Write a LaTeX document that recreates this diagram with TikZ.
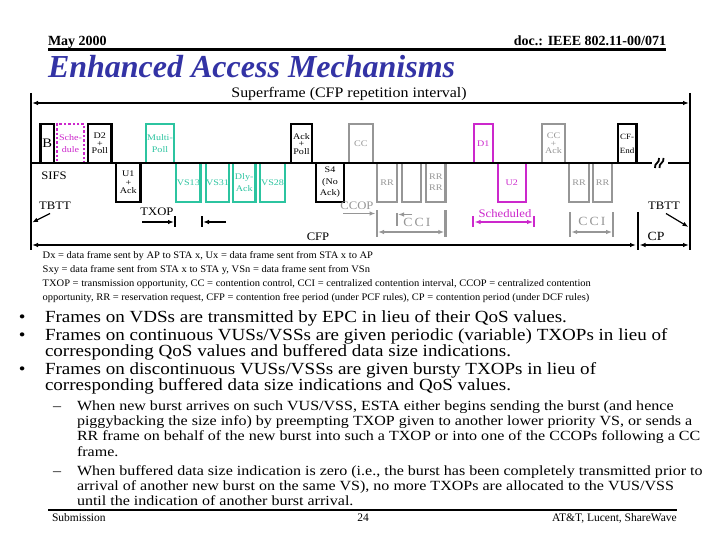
\documentclass[tikz,border=0pt]{standalone}
\usepackage{fontspec}
\setmainfont{Liberation Serif}
\newfontfamily\wA[FakeStretch=1.12]{Liberation Serif}
\newfontfamily\wB[FakeStretch=1.17]{Liberation Serif}
\newfontfamily\wS[FakeStretch=1.145]{Liberation Serif}
\newfontfamily\wL[FakeStretch=1.05]{Liberation Serif}
\newfontfamily\wT[FakeStretch=1.1]{Liberation Serif}
\usetikzlibrary{arrows.meta}
\definecolor{tealc}{RGB}{44,196,160}
\definecolor{magc}{RGB}{204,40,204}
\definecolor{grayc}{RGB}{150,150,150}
\definecolor{titleblue}{RGB}{51,51,165}
\begin{document}
\begin{tikzpicture}[x=1pt,y=-1pt,
  bx/.style={inner sep=0pt, outer sep=0pt, align=center, font=\wB\fontsize{8.6}{8.5}\selectfont},
  upbox/.style={bx, minimum width=#1, minimum height=38.8pt, anchor=center},
  blkbox/.style={draw=black, line width=2.4pt},
  tl/.style={draw=tealc, line width=2.4pt, line join=miter},
  gr/.style={draw=grayc, line width=2.2pt},
  mg/.style={draw=magc, line width=2.4pt},
  txt/.style={inner sep=0pt, outer sep=0pt, anchor=center, font=\wT\fontsize{11.5}{11.5}\selectfont},
  line/.style={inner sep=0pt, outer sep=0pt, anchor=base west},
  arr/.style={line width=1.2pt, -{Latex[length=6pt,width=4.5pt]}},
  darr/.style={line width=1.2pt, {Latex[length=6pt,width=4.5pt]}-{Latex[length=6pt,width=4.5pt]}},
  bar/.style={line width=2.2pt},
  thick2/.style={line width=2.4pt}
]
\useasboundingbox (0,0) rectangle (720,540);
\fill[white] (0,0) rectangle (720,540);

% ---------------- header ----------------
\node[line, font=\bfseries\fontsize{14}{14}\selectfont] (may) at (48,46) {May 2000};
\node[inner sep=0pt, outer sep=0pt, anchor=base east, font=\bfseries\fontsize{14}{14}\selectfont] (doc) at (666,46) {doc.: IEEE 802.11-00/071};
\coordinate (hl) at (48,49.5);
\coordinate (hr) at (666,49.5);
\draw[thick2] (hl) -- (hr);
\node[line, font=\bfseries\itshape\fontsize{32}{32}\selectfont, text=titleblue] (title) at (48,78) {Enhanced Access Mechanisms};

% ---------------- frame lines ----------------
\coordinate (lt) at (31,93);
\coordinate (lb) at (31,250);
\coordinate (rt) at (690,93);
\coordinate (rb) at (690,250);
\draw[thick2] (lt) -- (lb);
\draw[thick2] (rt) -- (rb);
\node[txt, font=\wT\fontsize{14.5}{14.5}\selectfont] (sf) at (349,93.5) {Superframe (CFP repetition interval)};
\coordinate (sfl) at (32,103);
\coordinate (sfr) at (689,103);
\draw[darr, line width=2pt] (sfl) -- (sfr);

% ---------------- boxes above the baseline ----------------
\node[upbox=13.3pt, blkbox, font=\wA\fontsize{13}{13}\selectfont] (B) at (47.15,143.6) {B};
\node[upbox=27pt, draw=magc, line width=2.4pt, dotted, text=magc] (Sch) at (70.5,143.6) {Sche-\\[3pt]dule};
\node[upbox=23.3pt, blkbox] (D2) at (99.85,143.6) {D2\\[-1pt]+\\[-1pt]Poll};
\node[upbox=27.6pt, text=tealc] (MP) at (160,143.6) {Multi-\\[4pt]Poll};
\node[upbox=20.6pt, blkbox] (AP) at (301.5,143.6) {Ack\\[-1pt]+\\[-1pt]Poll};
\node[upbox=23.9pt, text=grayc] (CC) at (360.85,143.6) {CC};
\node[upbox=18.9pt, text=magc] (D1) at (483.35,143.6) {D1};
\node[upbox=22.6pt, text=grayc] (CCA) at (553.5,143.6) {CC\\[-1pt]+\\[-1pt]Ack};
\node[upbox=18.6pt, blkbox, font=\wA\fontsize{8}{8}\selectfont] (CFE) at (627.2,143.6) {CF-\\[6pt]End};

\draw[tl] (MP.south west) -- (MP.north west) -- (MP.north east) -- (MP.south east);
\draw[gr] (CC.south west) -- (CC.north west) -- (CC.north east) -- (CC.south east);
\draw[mg] (D1.south west) -- (D1.north west) -- (D1.north east) -- (D1.south east);
\draw[gr] (CCA.south west) -- (CCA.north west) -- (CCA.north east) -- (CCA.south east);

% ---------------- boxes below the baseline ----------------
\node[upbox=24.3pt, blkbox] (U1) at (128.35,182.4) {U1\\[0pt]+\\[0pt]Ack};
\node[upbox=24.3pt, text=tealc] (VS13) at (188.35,182.4) {VS13};
\node[upbox=22.6pt, text=tealc] (VS31) at (217.5,182.4) {VS31};
\node[upbox=22.6pt, text=tealc] (DA) at (244.2,182.4) {Dly-\\[3pt]Ack};
\node[upbox=24.6pt, text=tealc] (VS28) at (272.5,182.4) {VS28};
\node[upbox=27.6pt, blkbox] (S4) at (330,182.4) {S4\\[3pt](No\\[3pt]Ack)};
\node[upbox=19.6pt, text=grayc] (RR1) at (387,182.4) {RR};
\node[upbox=18.9pt] (RRe) at (411.35,182.4) {};
\node[upbox=19.3pt, text=grayc] (RR2) at (435.85,182.4) {RR\\[2pt]RR};
\node[upbox=27.9pt, text=magc] (U2) at (511.85,182.4) {U2};
\node[upbox=19.6pt, text=grayc] (RR3) at (579,182.4) {RR};
\node[upbox=18.6pt, text=grayc] (RR4) at (602.5,182.4) {RR};

\foreach \n in {VS13,VS31,DA,VS28}
  \draw[tl] (\n.north west) -- (\n.south west) -- (\n.south east) -- (\n.north east);
\foreach \n in {RR1,RRe,RR2,RR3,RR4}
  \draw[gr] (\n.north west) -- (\n.south west) -- (\n.south east) -- (\n.north east);
\draw[mg] (U2.north west) -- (U2.south west) -- (U2.south east) -- (U2.north east);

% ---------------- baseline ----------------
\coordinate (b0) at (31,163);
\coordinate (b1) at (652,163);
\coordinate (b2) at (668,163);
\coordinate (b3) at (690,163);
\draw[line width=2.2pt] (b0) -- (b1);
\draw[line width=2.2pt] (b2) -- (b3);
\coordinate (k1a) at (655,168); \coordinate (k1b) at (659,158);
\coordinate (k2a) at (659.5,168); \coordinate (k2b) at (663.5,158);
\draw[line width=1.8pt] (k1a) .. controls (654,163) and (660,163) .. (k1b);
\draw[line width=1.8pt] (k2a) .. controls (658.5,163) and (664.5,163) .. (k2b);

% ---------------- annotations ----------------
\node[txt] (sifs) at (54,176) {SIFS};
\node[txt] (tbttL) at (55,206) {TBTT};
\coordinate (tbttLs) at (50,213.5);
\coordinate (tbttLe) at (32,222.5);
\draw[arr] (tbttLs) -- (tbttLe);

\node[txt] (txop) at (157,212) {TXOP};
\coordinate (tx1s) at (142,222);
\coordinate (tx1e) at (174,222);
\coordinate (tx2s) at (226,222);
\coordinate (tx2e) at (203,222);
\draw[arr] (tx1s) -- (tx1e);
\draw[arr] (tx2s) -- (tx2e);
\coordinate (txb1t) at (175,216.5); \coordinate (txb1b) at (175,227.5);
\coordinate (txb2t) at (201.7,216.5); \coordinate (txb2b) at (201.7,227.5);
\draw[bar] (txb1t) -- (txb1b);
\draw[bar] (txb2t) -- (txb2b);

\node[txt, text=grayc] (ccop) at (357,206) {CCOP};
\coordinate (cc1s) at (343,213.5);
\coordinate (cc1e) at (375.5,213.5);
\draw[arr, draw=grayc, fill=grayc] (cc1s) -- (cc1e);
\coordinate (ccb1t) at (376.7,210.5); \coordinate (ccb1b) at (376.7,237);
\coordinate (ccb2t) at (445.5,210.5); \coordinate (ccb2b) at (445.5,237);
\draw[bar, grayc] (ccb1t) -- (ccb1b);
\draw[bar, grayc] (ccb2t) -- (ccb2b);
\coordinate (ccs1t) at (396.7,213); \coordinate (ccs1b) at (396.7,226);
\draw[bar, grayc] (ccs1t) -- (ccs1b);
\coordinate (ccs2s) at (412,214.5); \coordinate (ccs2e) at (398,214.5);
\draw[arr, draw=grayc, fill=grayc] (ccs2s) -- (ccs2e);
\node[txt, text=grayc, font=\wT\fontsize{12.5}{12.5}\selectfont] (cci1) at (417,222) {C\,C\,I};
\coordinate (ccd1) at (378,232); \coordinate (ccd2) at (444.3,232);
\draw[darr, draw=grayc, fill=grayc] (ccd1) -- (ccd2);

\node[txt, text=magc] (sched) at (505,213.5) {Scheduled};
\coordinate (scb1t) at (473.3,216.5); \coordinate (scb1b) at (473.3,227);
\coordinate (scb2t) at (534.3,216.5); \coordinate (scb2b) at (534.3,227);
\draw[bar, magc] (scb1t) -- (scb1b);
\draw[bar, magc] (scb2t) -- (scb2b);
\coordinate (scd1) at (474.5,222); \coordinate (scd2) at (533.1,222);
\draw[darr, draw=magc, fill=magc] (scd1) -- (scd2);

\node[txt, text=grayc, font=\wT\fontsize{12.5}{12.5}\selectfont] (cci2) at (592,221.5) {C\,C\,I};
\coordinate (crb1t) at (570,212.5); \coordinate (crb1b) at (570,237);
\coordinate (crb2t) at (613.3,212.5); \coordinate (crb2b) at (613.3,237);
\draw[bar, grayc] (crb1t) -- (crb1b);
\draw[bar, grayc] (crb2t) -- (crb2b);
\coordinate (crd1) at (571.2,232); \coordinate (crd2) at (612.1,232);
\draw[darr, draw=grayc, fill=grayc] (crd1) -- (crd2);

\node[txt] (tbttR) at (664,206) {TBTT};
\coordinate (tbttRs) at (666,213.5);
\coordinate (tbttRe) at (688.5,227);
\draw[arr] (tbttRs) -- (tbttRe);

% bottom CFP / CP arrows
\coordinate (cfpl) at (32,245);
\coordinate (cfpr) at (636,245);
\draw[darr, line width=2pt] (cfpl) -- (cfpr);
\coordinate (cpt) at (637.8,212);
\coordinate (cpb) at (637.8,250);
\draw[thick2] (cpt) -- (cpb);
\coordinate (cpl) at (639.5,245);
\coordinate (cpr) at (689,245);
\draw[darr, line width=2pt] (cpl) -- (cpr);
\node[txt] (cfp) at (318,237) {CFP};
\node[txt, font=\wT\fontsize{12.5}{12.5}\selectfont] (cp) at (656,236) {CP};

% ---------------- legend ----------------
\begin{scope}[font=\wL\fontsize{10}{10}\selectfont]
\node[line] (lg1) at (42.7,258.5) {Dx = data frame sent by AP to STA x, Ux = data frame sent from STA x to AP};
\node[line] (lg2) at (42.7,272.5) {Sxy = data frame sent from STA x to STA y, VSn = data frame sent from VSn};
\node[line] (lg3) at (42.7,286.5) {TXOP = transmission opportunity, CC = contention control, CCI = centralized contention interval, CCOP = centralized contention};
\node[line] (lg4) at (42.7,300.5) {opportunity, RR = reservation request, CFP = contention free period (under PCF rules), CP = contention period (under DCF rules)};
\end{scope}

% ---------------- bullets ----------------
\begin{scope}[font=\wA\fontsize{17}{17}\selectfont]
\node[line] (bu1) at (19,322) {•};
\node[line] (t1) at (45,322) {Frames on VDSs are transmitted by EPC in lieu of their QoS values.};
\node[line] (bu2) at (19,340) {•};
\node[line] (t2) at (45,340) {Frames on continuous VUSs/VSSs are given periodic (variable) TXOPs in lieu of};
\node[line] (t2b) at (45,356) {corresponding QoS values and buffered data size indications.};
\node[line] (bu3) at (19,374) {•};
\node[line] (t3) at (45,374) {Frames on discontinuous VUSs/VSSs are given bursty TXOPs in lieu of};
\node[line] (t3b) at (45,390) {corresponding buffered data size indications and QoS values.};
\end{scope}
\begin{scope}[font=\wS\fontsize{14}{14}\selectfont]
\node[line] (da1) at (53,410) {–};
\node[line] (s1) at (77,410) {When new burst arrives on such VUS/VSS, ESTA either begins sending the burst (and hence};
\node[line] (s1b) at (77,425.5) {piggybacking the size info) by preempting TXOP given to another lower priority VS, or sends a};
\node[line] (s1c) at (77,440.5) {RR frame on behalf of the new burst into such a TXOP or into one of the CCOPs following a CC};
\node[line] (s1d) at (77,456) {frame.};
\node[line] (da2) at (53,475) {–};
\node[line] (s2) at (77,475) {When buffered data size indication is zero (i.e., the burst has been completely transmitted prior to};
\node[line] (s2b) at (77,490) {arrival of another new burst on the same VS), no more TXOPs are allocated to the VUS/VSS};
\node[line] (s2c) at (77,505) {until the indication of another burst arrival.};
\end{scope}

% ---------------- footer ----------------
\coordinate (fl) at (48,510);
\coordinate (fr) at (677,510);
\draw[thick2] (fl) -- (fr);
\begin{scope}[font=\fontsize{11.5}{11.5}\selectfont]
\node[line] (sub) at (52,521.5) {Submission};
\node[inner sep=0pt, anchor=base] (pg) at (363,521.5) {24};
\node[inner sep=0pt, anchor=base east] (auth) at (677,521.5) {AT\&T, Lucent, ShareWave};
\end{scope}
\end{tikzpicture}
\end{document}
